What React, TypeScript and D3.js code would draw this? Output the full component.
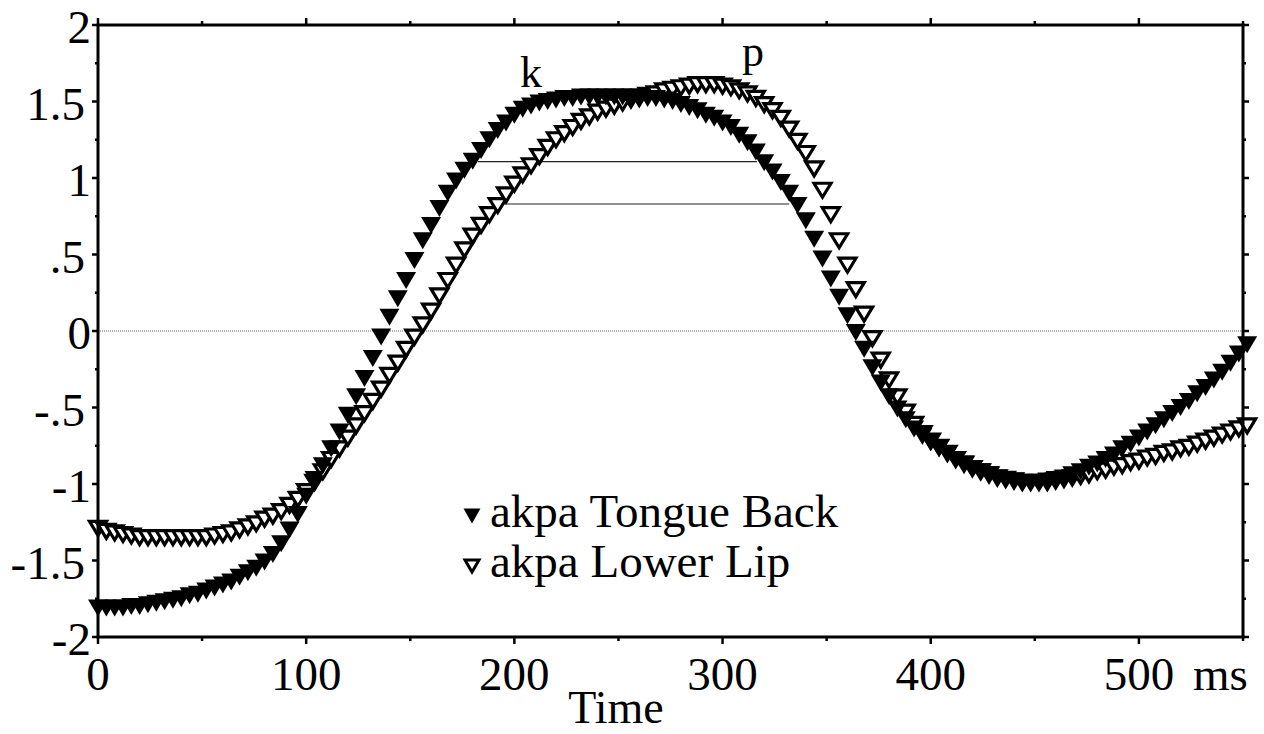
import React from "react";
import * as d3 from "d3";

// ---- data (time in ms, displacement in arbitrary units) ----
const timeMs = [
  0, 4, 8, 12, 16, 20, 24, 28, 32, 36, 40, 44, 48, 52, 56, 60, 64, 68, 72, 76,
  80, 84, 88, 92, 96, 100, 104, 108, 112, 116, 120, 124, 128, 132, 136, 140, 144, 148, 152, 156,
  160, 164, 168, 172, 176, 180, 184, 188, 192, 196, 200, 204, 208, 212, 216, 220, 224, 228, 232, 236,
  240, 244, 248, 252, 256, 260, 264, 268, 272, 276, 280, 284, 288, 292, 296, 300, 304, 308, 312, 316,
  320, 324, 328, 332, 336, 340, 344, 348, 352, 356, 360, 364, 368, 372, 376, 380, 384, 388, 392, 396,
  400, 404, 408, 412, 416, 420, 424, 428, 432, 436, 440, 444, 448, 452, 456, 460, 464, 468, 472, 476,
  480, 484, 488, 492, 496, 500, 504, 508, 512, 516, 520, 524, 528, 532, 536, 540, 544, 548, 552,
];

const tongueBack = [
  -1.81, -1.81, -1.81, -1.81, -1.8, -1.8, -1.79, -1.78, -1.77, -1.76, -1.75, -1.73, -1.72, -1.7, -1.68, -1.66, -1.64, -1.61, -1.58, -1.55,
  -1.51, -1.46, -1.39, -1.3, -1.2, -1.08, -0.97, -0.88, -0.77, -0.66, -0.55, -0.43, -0.31, -0.18, -0.04, 0.09, 0.21, 0.33, 0.46, 0.59,
  0.69, 0.8, 0.9, 0.98, 1.05, 1.11, 1.18, 1.25, 1.31, 1.36, 1.41, 1.45, 1.47, 1.49, 1.5, 1.51, 1.52, 1.52, 1.53, 1.53,
  1.53, 1.53, 1.53, 1.53, 1.53, 1.53, 1.52, 1.52, 1.51, 1.5, 1.48, 1.46, 1.44, 1.41, 1.39, 1.36, 1.33, 1.28, 1.23, 1.17,
  1.1, 1.04, 0.97, 0.9, 0.82, 0.72, 0.6, 0.47, 0.34, 0.22, 0.1, -0.01, -0.12, -0.24, -0.34, -0.43, -0.51, -0.58, -0.64, -0.69,
  -0.73, -0.77, -0.8, -0.84, -0.87, -0.9, -0.92, -0.94, -0.96, -0.97, -0.98, -0.99, -0.99, -0.99, -0.98, -0.97, -0.96, -0.94, -0.92, -0.89,
  -0.87, -0.84, -0.81, -0.77, -0.74, -0.7, -0.66, -0.62, -0.58, -0.54, -0.5, -0.46, -0.41, -0.37, -0.32, -0.27, -0.21, -0.15, -0.09,
];

const lowerLip = [
  -1.29, -1.31, -1.32, -1.33, -1.34, -1.35, -1.35, -1.35, -1.35, -1.35, -1.35, -1.35, -1.35, -1.35, -1.34, -1.33, -1.32, -1.3, -1.28, -1.26,
  -1.23, -1.21, -1.18, -1.14, -1.1, -1.05, -0.99, -0.92, -0.84, -0.77, -0.7, -0.62, -0.54, -0.46, -0.38, -0.29, -0.21, -0.12, -0.04, 0.04,
  0.13, 0.23, 0.33, 0.43, 0.53, 0.62, 0.69, 0.76, 0.82, 0.89, 0.96, 1.02, 1.08, 1.14, 1.2, 1.25, 1.29, 1.33, 1.37, 1.4,
  1.43, 1.45, 1.47, 1.49, 1.51, 1.52, 1.54, 1.55, 1.57, 1.58, 1.59, 1.6, 1.61, 1.61, 1.61, 1.6, 1.59, 1.57, 1.55, 1.52,
  1.48, 1.44, 1.39, 1.32, 1.24, 1.16, 1.06, 0.92, 0.76, 0.59, 0.43, 0.27, 0.11, -0.05, -0.19, -0.32, -0.43, -0.53, -0.61, -0.67,
  -0.72, -0.76, -0.8, -0.84, -0.87, -0.9, -0.92, -0.94, -0.96, -0.97, -0.98, -0.99, -0.99, -0.99, -0.99, -0.98, -0.97, -0.96, -0.95, -0.94,
  -0.92, -0.91, -0.89, -0.88, -0.86, -0.85, -0.83, -0.82, -0.8, -0.79, -0.77, -0.76, -0.74, -0.72, -0.7, -0.68, -0.66, -0.64, -0.62,
];

// measurement lines: [startMs, endMs, level]
const measureLines = [
  [182.5, 316.5, 1.107],
  [193, 332, 0.83],
];

const xMajorTicks = [0, 100, 200, 300, 400, 500];
const xMinorTicks = [50, 150, 250, 350, 450, 550];
const yMajorTicks = [-2, -1.5, -1, -0.5, 0, 0.5, 1, 1.5, 2];
const yMinorTicks = [-1.75, -1.25, -0.75, -0.25, 0.25, 0.75, 1.25, 1.75];
const yTickLabels = ["-2", "-1.5", "-1", "-.5", "0", ".5", "1", "1.5", "2"];
const xTickLabels = ["0", "100", "200", "300", "400", "500"];

const seriesNames = ["akpa Tongue Back", "akpa Lower Lip"];

const FONT = "'Liberation Serif', 'Times New Roman', Times, serif";

function triPath(cx: number, cy: number, w: number, h: number) {
  const p = d3.path();
  p.moveTo(cx - w / 2, cy - h / 2);
  p.lineTo(cx + w / 2, cy - h / 2);
  p.lineTo(cx, cy + h / 2);
  p.closePath();
  return p.toString();
}

export default function App() {
  const W = 1264;
  const H = 734;
  const x = d3.scaleLinear().domain([0, 550]).range([98, 1243]);
  const y = d3.scaleLinear().domain([-2, 2]).range([637, 25]);
  const [x0, x1] = x.range();
  const [y0, y1] = [y(2), y(-2)];

  const MW = 20;
  const MH = 17;

  return (
    <svg
      width={W}
      height={H}
      viewBox={`0 0 ${W} ${H}`}
      style={{ position: "absolute", left: 0, top: 0, background: "#fff" }}
      fontFamily={FONT}
    >
      <rect x={0} y={0} width={W} height={H} fill="#fff" />

      {/* zero line */}
      <line x1={x0} x2={x1} y1={y(0)} y2={y(0)} stroke="#666" strokeWidth={1} strokeDasharray="1,1" />

      {/* measurement lines */}
      {measureLines.map((m, i) => (
        <line key={i} x1={x(m[0])} x2={x(m[1])} y1={y(m[2])} y2={y(m[2])} stroke="#222" strokeWidth={1.2} />
      ))}

      {/* Lower lip (open) */}
      <g>
        {timeMs.map((t, i) => (
          <path
            key={"ll" + i}
            d={triPath(x(t), y(lowerLip[i]), MW - 3, MH - 3)}
            fill="#fff"
            stroke="#000"
            strokeWidth={3.2}
            strokeLinejoin="miter"
          />
        ))}
      </g>
      {/* Tongue back (filled) */}
      <g>
        {timeMs.map((t, i) => (
          <path key={"tb" + i} d={triPath(x(t), y(tongueBack[i]), MW, MH)} fill="#000" />
        ))}
      </g>

      {/* frame */}
      <rect x={x0} y={y0} width={x1 - x0} height={y1 - y0} fill="none" stroke="#000" strokeWidth={3} />

      {/* x ticks bottom & top */}
      {xMajorTicks.map((t) => (
        <g key={"xM" + t}>
          <line x1={x(t)} x2={x(t)} y1={y1} y2={y1 + 7} stroke="#000" strokeWidth={2.5} />
          <line x1={x(t)} x2={x(t)} y1={y0} y2={y0 - 7} stroke="#000" strokeWidth={2.5} />
        </g>
      ))}
      {xMinorTicks.map((t) => (
        <g key={"xm" + t}>
          <line x1={x(t)} x2={x(t)} y1={y1} y2={y1 + 4} stroke="#000" strokeWidth={2.5} />
          <line x1={x(t)} x2={x(t)} y1={y0} y2={y0 - 4} stroke="#000" strokeWidth={2.5} />
        </g>
      ))}
      {/* y ticks left & right */}
      {yMajorTicks.map((v) => (
        <g key={"yM" + v}>
          <line x1={x0} x2={x0 - 6} y1={y(v)} y2={y(v)} stroke="#000" strokeWidth={2.5} />
          <line x1={x1} x2={x1 + 6} y1={y(v)} y2={y(v)} stroke="#000" strokeWidth={2.5} />
        </g>
      ))}
      {yMinorTicks.map((v) => (
        <g key={"ym" + v}>
          <line x1={x0} x2={x0 - 3} y1={y(v)} y2={y(v)} stroke="#000" strokeWidth={2.5} />
          <line x1={x1} x2={x1 + 3} y1={y(v)} y2={y(v)} stroke="#000" strokeWidth={2.5} />
        </g>
      ))}

      {/* y tick labels */}
      {yMajorTicks.map((v, i) => (
        <text
          key={"yl" + v}
          x={Number.isInteger(v) ? 91 : 85}
          y={y(v) + 18}
          textAnchor="end"
          fontSize={47}
          fill="#000"
        >
          {yTickLabels[i]}
        </text>
      ))}

      {/* x tick labels */}
      {xMajorTicks.map((t, i) => (
        <text key={"xl" + t} x={x(t)} y={690} textAnchor="middle" fontSize={47} fill="#000">
          {xTickLabels[i]}
        </text>
      ))}
      <text x={1193} y={690} fontSize={47} fill="#000">ms</text>
      <text x={616} y={723} textAnchor="middle" fontSize={46} fill="#000">Time</text>

      {/* event labels */}
      <text x={520} y={87} fontSize={44} fill="#000">k</text>
      <text x={742} y={66} fontSize={44} fill="#000">p</text>

      {/* legend */}
      <path d={triPath(472, 516, 17, 15)} fill="#000" />
      <text x={490} y={527} fontSize={47} fill="#000">{seriesNames[0]}</text>
      <path d={triPath(472, 566, 14, 12)} fill="#fff" stroke="#000" strokeWidth={3} />
      <text x={490} y={577} fontSize={47} fill="#000">{seriesNames[1]}</text>
    </svg>
  );
}
